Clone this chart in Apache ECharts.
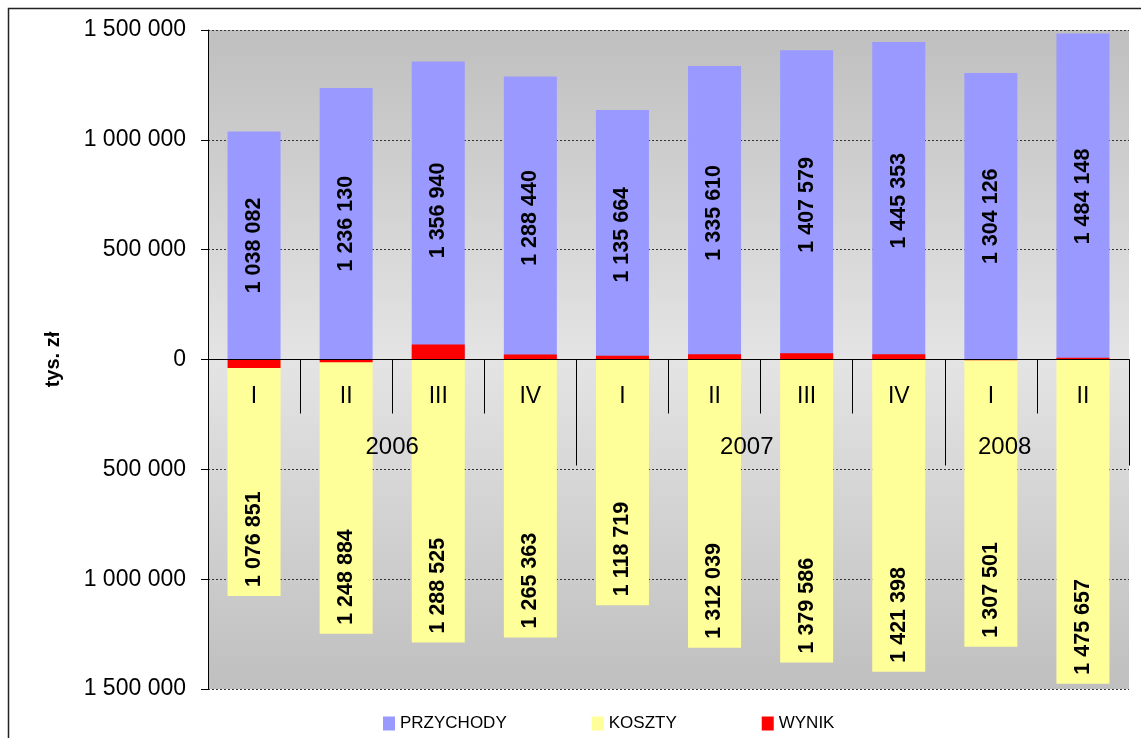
<!DOCTYPE html>
<html>
<head>
<meta charset="utf-8">
<script src="https://cdn.jsdelivr.net/npm/echarts@6/dist/echarts.min.js"></script>
<style>
html, body { margin: 0; padding: 0; background: #fff; }
#main { width: 1141px; height: 738px; }
</style>
</head>
<body>
<div id="main"></div>
<script>
// kwartały i lata
var quarters = ['I', 'II', 'III', 'IV', 'I', 'II', 'III', 'IV', 'I', 'II'];
var years = ['2006', '2007', '2008'];
var yearPos = [2, 5.85, 8.65];      // miejsce podpisu roku na osi (w kategoriach)
var yearBreaks = [4, 8, 10];         // długie kreski oddzielające lata

// wartości w tys. zł
var przychody = [1038082, 1236130, 1356940, 1288440, 1135664, 1335610, 1407579, 1445353, 1304126, 1484148];
var koszty = [1076851, 1248884, 1288525, 1265363, 1118719, 1312039, 1379586, 1421398, 1307501, 1475657];
var wynik = [-38769, -12754, 68415, 23077, 16945, 23571, 27993, 23955, -3375, 8491];

var FONT = 'Liberation Sans, Arial, sans-serif';

function fmt(v) {
    return Math.abs(v).toString().replace(/\B(?=(\d{3})+(?!\d))/g, ' ');
}

var dom = document.getElementById('main');
var myChart = echarts.init(dom);

// oś X leży na zerze: przesunięcie od dolnej krawędzi siatki o połowę wysokości
var gridTop = 30, gridBottom = 49;
var zeroOffset = -(738 - gridTop - gridBottom) / 2;

var option = {
    animation: false,
    backgroundColor: '#fff',
    textStyle: { fontFamily: FONT },
    graphic: [{
        type: 'rect',
        shape: { x: 8.5, y: 8.5, width: 1140, height: 740 },
        style: { fill: 'none', stroke: '#222', lineWidth: 1.5 },
        silent: true
    }],
    grid: {
        left: 208,
        right: 12,
        top: gridTop,
        bottom: gridBottom,
        outerBoundsMode: 'none',
        show: true,
        borderWidth: 0,
        backgroundColor: {
            type: 'linear', x: 0, y: 0, x2: 0, y2: 1,
            colorStops: [
                { offset: 0, color: '#BFBFBF' },
                { offset: 0.5, color: '#E4E4E4' },
                { offset: 1, color: '#BFBFBF' }
            ]
        }
    },
    legend: {
        left: 383,
        top: 715,
        padding: 0,
        icon: 'rect',
        itemWidth: 12,
        itemHeight: 14,
        itemGap: 85,
        textStyle: { fontFamily: FONT, fontSize: 17, color: '#000' },
        data: ['PRZYCHODY', 'KOSZTY', 'WYNIK']
    },
    xAxis: [
        {
            type: 'category',
            data: quarters,
            position: 'bottom',
            offset: zeroOffset,
            z: 10,
            axisLine: { onZero: false, lineStyle: { color: '#000', width: 1 } },
            axisTick: { show: true, length: 54, lineStyle: { color: '#000' } },
            axisLabel: { margin: 26, fontSize: 23, color: '#000', fontFamily: FONT },
            splitLine: { show: false }
        },
        {
            type: 'value',
            min: 0,
            max: 10,
            position: 'bottom',
            offset: zeroOffset,
            z: 10,
            axisLine: { show: false, onZero: false },
            axisTick: {
                show: true, length: 106, customValues: yearBreaks,
                lineStyle: { color: '#000' }
            },
            axisLabel: {
                margin: 76, fontSize: 24, color: '#000', fontFamily: FONT,
                customValues: yearPos,
                formatter: function (v) {
                    var i = yearPos.indexOf(v);
                    return i >= 0 ? years[i] : '';
                }
            },
            splitLine: { show: false }
        }
    ],
    yAxis: {
        type: 'value',
        min: -1500000,
        max: 1500000,
        interval: 500000,
        name: 'tys. zł',
        nameLocation: 'middle',
        nameGap: 145,
        nameTextStyle: { fontFamily: FONT, fontSize: 20, fontWeight: 'bold', color: '#000' },
        axisLine: { show: true, lineStyle: { color: '#000', width: 1 } },
        axisTick: { show: true, length: 7, lineStyle: { color: '#000' } },
        axisLabel: {
            margin: 22, fontSize: 23, color: '#000', fontFamily: FONT,
            formatter: function (v) { return fmt(v); }
        },
        splitLine: { show: true, lineStyle: { color: '#333', width: 1, type: [2, 2] } }
    },
    series: [
        {
            name: 'PRZYCHODY',
            type: 'bar',
            barWidth: 53,
            barGap: '-100%',
            itemStyle: { color: '#9999FF' },
            label: {
                show: true,
                position: 'inside',
                rotate: 90,
                align: 'center',
                verticalAlign: 'middle',
                fontFamily: FONT, fontSize: 21.5, fontWeight: 'bold', color: '#000',
                formatter: function (p) { return fmt(p.value); }
            },
            data: przychody
        },
        {
            name: 'KOSZTY',
            type: 'bar',
            barWidth: 53,
            barGap: '-100%',
            itemStyle: { color: '#FFFF99' },
            label: {
                show: true,
                position: 'insideBottom',
                distance: 9,
                rotate: 90,
                align: 'left',
                verticalAlign: 'middle',
                fontFamily: FONT, fontSize: 21.5, fontWeight: 'bold', color: '#000',
                formatter: function (p) { return fmt(p.value); }
            },
            data: koszty.map(function (v) { return -v; })
        },
        {
            name: 'WYNIK',
            type: 'bar',
            barWidth: 53,
            barGap: '-100%',
            itemStyle: { color: '#FF0000' },
            data: wynik
        }
    ]
};

myChart.setOption(option, true);
</script>
</body>
</html>
